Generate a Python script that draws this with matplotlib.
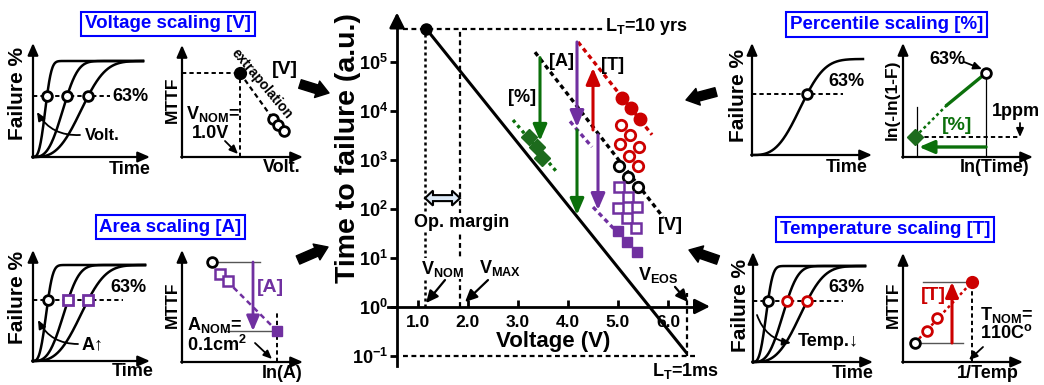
import numpy as np
import matplotlib
matplotlib.use('Agg')
import matplotlib.pyplot as plt
from matplotlib.patches import FancyArrowPatch, Polygon
from matplotlib.transforms import IdentityTransform
from matplotlib.ticker import NullLocator

W, H = 1044, 385
plt.rcParams.update({
    'font.family': ['Liberation Sans', 'DejaVu Sans'],
    'font.weight': 'bold',
    'mathtext.fontset': 'custom',
    'mathtext.rm': 'Liberation Sans',
    'mathtext.bf': 'Liberation Sans:bold',
    'mathtext.it': 'Liberation Sans:bold',
    'mathtext.default': 'bf',
})

GREEN = '#0b700b'; DGREEN = '#1d6b1d'; PURPLE = '#7030a0'; RED = '#cc0000'
BLUE = '#0000ff'; GRAY = '#555555'; LBLUE = '#dce9f7'

# ---------------- main chart data ----------------
x_ticks = [1.0, 2.0, 3.0, 4.0, 5.0, 6.0]
x_tick_labels = ['1.0', '2.0', '3.0', '4.0', '5.0', '6.0']
y_tick_exp = [-1, 0, 1, 2, 3, 4, 5]
y_axis_v = 0.58
ref_v = [1.16, 6.38]; ref_t = [4.7e5, 0.11]
v_nom, v_max, v_eos = 1.14, 1.84, 6.38
lt_10yrs = 4.7e5; lt_1ms = 0.1
op_margin_t = 163
pct_fit_v = [2.9, 3.8]; pct_fit_t = [6.4e3, 5.2e2]
pct_v = [3.22, 3.38, 3.48]; pct_t = [2.9e3, 1.8e3, 1.07e3]
volt_fit_v = [3.34, 5.9]; volt_fit_t = [1.55e5, 67]
volt_v = [5.02, 5.2, 5.4]; volt_t = [740, 440, 275]
temp_fit_v = [4.2, 5.68]; temp_fit_t = [2.5e5, 3.2e3]
temp_v = [5.08, 5.26, 5.44]; temp_t = [1.8e4, 1.1e4, 6.7e3]
temp_raw_v = [5.06, 5.24, 5.04, 5.42, 5.22, 5.4]
temp_raw_t = [5.0e3, 3.2e3, 2.1e3, 1.8e3, 1.2e3, 740]
area_raw_v = [5.02, 5.2, 5.0, 5.38, 5.18, 5.36]
area_raw_t = [275, 170, 102, 107, 64, 40]
area_v = [5.0, 5.18, 5.38]; area_t = [35, 21, 13]
area_fit1_v = [4.04, 4.48]; area_fit1_t = [6.0e3, 1.8e3]
area_fit2_v = [4.5, 5.08]; area_fit2_t = [107, 26]
# shift arrows: (V, start, end, colour)
shift_arrows = [(3.44, 1.2e5, 2.4e3, GREEN), (4.18, 2.5e5, 4.6e3, PURPLE),
                (4.18, 4.0e3, 74, GREEN), (4.6, 3.2e3, 93, PURPLE),
                (4.5, 4.0e3, 7.4e4, RED)]

fig = plt.figure(figsize=(W / 100, H / 100), dpi=100)

# overlay in figure pixels (y from top)
ov = fig.add_axes([0, 0, 1, 1])
ov.set_xlim(0, W); ov.set_ylim(H, 0); ov.axis('off')

ax = fig.add_axes([368 / W, 5 / H, 350 / W, 377.3 / H])
ax.patch.set_visible(False)
ax.set_xlim(0, 7)
ax.set_yscale('log')
ax.set_ylim(10 ** -1.5, 10 ** 6.2)
for s in ['top', 'right']:
    ax.spines[s].set_visible(False)
ax.spines['left'].set_position(('data', y_axis_v))
ax.spines['bottom'].set_position(('data', 1.0))
ax.spines['left'].set_bounds(10 ** -1.21, 10 ** 5.8)
ax.spines['bottom'].set_bounds(0.4, 6.7)
ax.spines['left'].set_linewidth(2); ax.spines['bottom'].set_linewidth(2)
ax.set_xticks(x_ticks)
ax.set_xticklabels(x_tick_labels, fontsize=12.5)
ax.set_yticks([10.0 ** e for e in y_tick_exp])
ax.set_yticklabels(['$10^{%d}$' % e for e in y_tick_exp], fontsize=13)
ax.yaxis.set_minor_locator(NullLocator())
ax.tick_params(axis='x', direction='in', length=5, width=2, pad=6)
ax.tick_params(axis='y', direction='out', length=5, width=2, pad=1.5)
axap = dict(arrowstyle='-|>,head_length=0.6,head_width=0.3', color='k', lw=2,
            mutation_scale=15, shrinkA=0, shrinkB=0)
ax.annotate('', xy=(y_axis_v, 10 ** 6.0), xytext=(y_axis_v, 10 ** 5.7), arrowprops=axap, annotation_clip=False)
ax.annotate('', xy=(6.84, 1.0), xytext=(6.6, 1.0), arrowprops=axap, annotation_clip=False)

dash = (0, (2.2, 1.6))
ax.plot([0.7, 4.7], [lt_10yrs, lt_10yrs], color='k', lw=1.6, ls=dash)
ax.plot([0.7, 6.58], [lt_1ms, lt_1ms], color='k', lw=1.6, ls=dash, clip_on=False)
ax.plot([v_nom, v_nom], [1.0, lt_10yrs], color='k', lw=1.8, ls=(0, (1.2, 1.2)))
ax.plot([v_max, v_max], [1.0, lt_10yrs], color='k', lw=1.6, ls=dash)
ax.plot([v_eos, v_eos], [lt_1ms, 1.9], color='k', lw=1.6, ls=dash)
ax.plot(ref_v, ref_t, color='k', lw=2.2, solid_capstyle='butt')
ax.plot(ref_v[:1], ref_t[:1], 'o', color='k', ms=8)

fitdash = (0, (1.4, 1.1))
ax.plot(pct_fit_v, pct_fit_t, color=GREEN, lw=2.4, ls=(0, (1, 1.1)))
ax.plot(volt_fit_v, volt_fit_t, color='k', lw=2.4, ls=fitdash)
ax.plot(temp_fit_v, temp_fit_t, color=RED, lw=2.4, ls=fitdash)
ax.plot(area_fit1_v, area_fit1_t, color=PURPLE, lw=2.4, ls=fitdash)
ax.plot(area_fit2_v, area_fit2_t, color=PURPLE, lw=2.4, ls=fitdash)

ax.plot(pct_v, pct_t, 'D', color=DGREEN, ms=8.5, mec=DGREEN)
ax.plot(temp_raw_v, temp_raw_t, 'o', ms=7.5, mfc='white', mec=RED, mew=2)
ax.plot(volt_v, volt_t, 'o', ms=7.5, mfc='white', mec='k', mew=2)
ax.plot(temp_v, temp_t, 'o', ms=9, color=RED)
ax.plot(area_raw_v, area_raw_t, 's', ms=6.5, mfc='white', mec=PURPLE, mew=1.8)
ax.plot(area_v, area_t, 's', ms=7, color=PURPLE)

for xv, y0, y1, c in shift_arrows:
    ax.annotate('', xy=(xv, y1), xytext=(xv, y0),
                arrowprops=dict(arrowstyle='-|>,head_length=0.7,head_width=0.3', color=c,
                                lw=2.2, mutation_scale=14, shrinkA=0, shrinkB=0))

ax.text(3.08, 10 ** 4.26, '[%]', ha='center', va='center', fontsize=13)
ax.text(3.88, 10 ** 4.99, '[A]', ha='center', va='center', fontsize=13)
ax.text(4.9, 10 ** 4.92, '[T]', ha='center', va='center', fontsize=13)
ax.text(6.04, 10 ** 1.66, '[V]', ha='center', va='center', fontsize=13)
ax.text(4.74, 10 ** 5.72, 'L$_T$=10 yrs', ha='left', va='center', fontsize=13)
ax.text(5.68, 10 ** -1.32, 'L$_T$=1ms', ha='left', va='center', fontsize=13, clip_on=False)
ax.text(1.88, 10 ** 1.72, 'Op. margin', ha='center', va='center', fontsize=13,
        bbox=dict(fc='white', ec='none', pad=0.5))
ax.text(1.48, 10 ** 0.77, r'V$_{\mathrm{NOM}}$', ha='center', va='center', fontsize=13,
        bbox=dict(fc='white', ec='none', pad=0.5))
ax.text(2.64, 10 ** 0.79, r'V$_{\mathrm{MAX}}$', ha='center', va='center', fontsize=13)
ax.text(5.8, 10 ** 0.64, r'V$_{\mathrm{EOS}}$', ha='center', va='center', fontsize=13)
lap = dict(arrowstyle='-|>,head_length=0.6,head_width=0.28', color='k', lw=1.6,
           mutation_scale=12, shrinkA=0, shrinkB=0)
ax.annotate('', xy=(1.16, 10 ** 0.07), xytext=(1.54, 10 ** 0.54), arrowprops=lap)
ax.annotate('', xy=(1.94, 10 ** 0.09), xytext=(2.4, 10 ** 0.54), arrowprops=lap)
ax.annotate('', xy=(6.4, 10 ** 0.09), xytext=(6.14, 10 ** 0.4), arrowprops=lap)

# op. margin hollow double arrow
p0 = ax.transData.transform((v_nom, op_margin_t))
p1 = ax.transData.transform((v_max, op_margin_t))
x0, x1, yy = p0[0], p1[0], p0[1]
hl, hw, sw = 8, 7.5, 3
verts = [(x0, yy), (x0 + hl, yy + hw), (x0 + hl, yy + sw), (x1 - hl, yy + sw), (x1 - hl, yy + hw),
         (x1, yy), (x1 - hl, yy - hw), (x1 - hl, yy - sw), (x0 + hl, yy - sw), (x0 + hl, yy - hw)]
fig.add_artist(Polygon(verts, closed=True, transform=IdentityTransform(), fc=LBLUE, ec='k', lw=1.5, zorder=5))

ov.text(348, 148, 'Time to failure (a.u.)', rotation=90, ha='center', va='center', fontsize=20.5)
ov.text(553, 342, 'Voltage (V)', ha='center', va='center', fontsize=16)

# ---------------- titles & big arrows ----------------
titles = [('Voltage scaling [V]', 168, 24), ('Area scaling [A]', 170.5, 227),
          ('Percentile scaling [%]', 886.5, 24.5), ('Temperature scaling [T]', 885, 229.5)]
for txt, tx, ty in titles:
    ov.text(tx, ty, txt, ha='center', va='center', fontsize=13.5, color=BLUE,
            bbox=dict(boxstyle='square,pad=0.2', fc='white', ec=BLUE, lw=1.5))
big_arrows = [((300, 84), (329, 93)), ((298, 260), (328, 247)),
              ((716, 92), (686, 100)), ((718, 260), (689, 250))]
for (ax0, ay0), (ax1, ay1) in big_arrows:
    ov.add_patch(FancyArrowPatch((ax0, ay0), (ax1, ay1),
                 arrowstyle='simple,head_length=0.45,head_width=0.62,tail_width=0.32',
                 mutation_scale=20, color='k', shrinkA=0, shrinkB=0))

# ---------------- schematic panels ----------------
beta = 3.0
S = 96
volt_etas = [14, 34, 55]
area_etas = [15, 35, 55]
temp_etas = [15, 34, 54]
pct_eta = [55]
LW = 1.8


def base_panel(ox, oy, w, h):
    a = fig.add_axes([ox / W, (H - oy) / H, w / W, h / H])
    a.set_xlim(0, w); a.set_ylim(0, h); a.axis('off')
    ap = dict(arrowstyle='-|>,head_length=0.55,head_width=0.24', color='k', lw=1.6,
              mutation_scale=13, shrinkA=0, shrinkB=0)
    a.annotate('', xy=(w, 0), xytext=(-0.8, 0), arrowprops=ap, annotation_clip=False)
    a.annotate('', xy=(0, h), xytext=(0, -0.8), arrowprops=ap, annotation_clip=False)
    return a


def weibull_panel(a, etas, t_end, styles):
    t = np.linspace(0, t_end, 300)
    y63 = S * (1 - np.exp(-1))
    for eta in etas:
        a.plot(t, S * (1 - np.exp(-(t / eta) ** beta)), color='k', lw=LW, clip_on=False)
    for eta, (m, c, ms) in zip(etas, styles):
        a.plot([eta], [y63], m, ms=ms, mfc='white', mec=c, mew=2, clip_on=False, zorder=5)
    return y63


cap = dict(arrowstyle='-|>,head_length=0.5,head_width=0.22', color='k', lw=1.3,
           mutation_scale=10, shrinkA=0, shrinkB=0)

# Panel 1: failure vs time, voltage
pa = base_panel(33, 157, 117, 114)
y63 = weibull_panel(pa, volt_etas, 110, [('o', 'k', 7)] * 3)
pa.plot([0, 77], [y63, y63], color='k', lw=1.4, ls=dash, zorder=1)
pa.text(79, y63, '63%', ha='left', va='center', fontsize=13)
pa.text(-15, 64, 'Failure %', rotation=90, ha='center', va='center', fontsize=15)
pa.text(97, -13, 'Time', ha='center', va='center', fontsize=13)
pa.text(52, 22, 'Volt.', ha='left', va='center', fontsize=12)
pa.annotate('', xy=(4, 45), xytext=(47, 22), arrowprops=dict(cap, connectionstyle='arc3,rad=-0.3'))

# Panel 2: MTTF vs volt
v_nom_pt = (58, 84)
v_stress_x = [91, 96, 102]; v_stress_y = [38, 32, 26]
pb = base_panel(182, 157, 121, 112)
pb.plot([0, v_nom_pt[0]], [v_nom_pt[1]] * 2, color='k', lw=1.4, ls=dash)
pb.plot([v_nom_pt[0]] * 2, [0, v_nom_pt[1]], color='k', lw=1.4, ls=dash)
pb.plot([v_nom_pt[0], v_stress_x[0]], [v_nom_pt[1], v_stress_y[0]], color='k', lw=1.6, ls=dash)
pb.plot([v_nom_pt[0]], [v_nom_pt[1]], 'o', color='k', ms=8.5, clip_on=False)
pb.plot(v_stress_x, v_stress_y, 'o', ms=7, mfc='white', mec='k', mew=2, clip_on=False)
pb.text(79.5, 73, 'extrapolation', rotation=-50, ha='center', va='center', fontsize=10)
pb.text(4, 43, r'V$_{\mathrm{NOM}}$=', ha='left', va='center', fontsize=13)
pb.text(28.5, 24, '1.0V', ha='center', va='center', fontsize=13)
pb.annotate('', xy=(56, 3), xytext=(43, 16), arrowprops=cap)
pb.text(103, 87, '[V]', ha='center', va='center', fontsize=14)
pb.text(-10, 57, 'MTTF', rotation=90, ha='center', va='center', fontsize=12.5)
pb.text(100, -11, 'Volt.', ha='center', va='center', fontsize=13)

# Panel 3: failure vs time, area
pc = base_panel(33, 361, 117, 111)
y63 = weibull_panel(pc, area_etas, 112, [('o', 'k', 7), ('s', PURPLE, 6.5), ('s', PURPLE, 6.5)])
pc.plot([0, 90], [y63, y63], color='k', lw=1.4, ls=dash, zorder=1)
pc.text(95, 73, '63%', ha='center', va='center', fontsize=13)
pc.text(-15, 64, 'Failure %', rotation=90, ha='center', va='center', fontsize=15)
pc.text(100, -11, 'Time', ha='center', va='center', fontsize=13)
pc.text(49, 16, 'A↑', ha='left', va='center', fontsize=13)
pc.annotate('', xy=(5, 41), xytext=(45, 17), arrowprops=dict(cap, connectionstyle='arc3,rad=-0.3'))

# Panel 4: MTTF vs ln(A)
a_small = (30, 100)
a_mid_x = [38, 46]; a_mid_y = [88, 81]
a_nom = (95, 31)
pd_ = base_panel(182, 362, 121, 112)
pd_.plot([a_small[0], 78], [a_small[1]] * 2, color=GRAY, lw=1)
pd_.plot([43, a_nom[0]], [a_nom[1]] * 2, color=GRAY, lw=1)
pd_.plot([a_nom[0]] * 2, [0, 49], color='k', lw=1.4, ls=dash)
pd_.plot([a_mid_x[0], a_nom[0]], [a_mid_y[0], a_nom[1]], color=PURPLE, lw=1.8, ls=dash)
pd_.plot([a_small[0]], [a_small[1]], 'o', ms=7, mfc='white', mec='k', mew=2, clip_on=False)
pd_.plot(a_mid_x, a_mid_y, 's', ms=6.5, mfc='white', mec=PURPLE, mew=1.8, clip_on=False)
pd_.plot([a_nom[0]], [a_nom[1]], 's', ms=7.5, color=PURPLE, clip_on=False)
pd_.annotate('', xy=(71, a_nom[1]), xytext=(71, a_small[1]),
             arrowprops=dict(arrowstyle='-|>,head_length=0.7,head_width=0.3', color=PURPLE,
                             lw=2, mutation_scale=13, shrinkA=0, shrinkB=0))
pd_.text(88, 74, '[A]', ha='center', va='center', fontsize=14, color=PURPLE)
pd_.text(5, 37, r'A$_{\mathrm{NOM}}$=', ha='left', va='center', fontsize=13)
pd_.text(5, 17, '0.1cm$^2$', ha='left', va='center', fontsize=13)
pd_.annotate('', xy=(90, 3), xytext=(73, 19), arrowprops=cap)
pd_.text(-10, 57, 'MTTF', rotation=90, ha='center', va='center', fontsize=12.5)
pd_.text(100, -11, 'ln(A)', ha='center', va='center', fontsize=13)

# Panel 5: percentile failure vs time
pe = base_panel(752, 155, 120, 112)
y63 = weibull_panel(pe, pct_eta, 111, [('o', 'k', 7)])
pe.plot([0, 91], [y63, y63], color='k', lw=1.4, ls=dash, zorder=1)
pe.text(94, 73, '63%', ha='center', va='center', fontsize=13)
pe.text(-14, 59, 'Failure %', rotation=90, ha='center', va='center', fontsize=15)
pe.text(95, -12, 'Time', ha='center', va='center', fontsize=13)

# Panel 6: Weibull plot
w63 = (83, 84)
w_break = (44, 52)
w_ppm = (12, 20)
pf = base_panel(903, 157, 130, 114)
pf.plot([w63[0]] * 2, [0, w63[1]], color='k', lw=0.9)
pf.plot([14, 14], [0, 50], color='k', lw=0.9)
pf.plot([14, 117], [w_ppm[1]] * 2, color='k', lw=1.4, ls=dash)
pf.plot([w63[0], w_break[0]], [w63[1], w_break[1]], color=GREEN, lw=2.4)
pf.plot([w_break[0], w_ppm[0]], [w_break[1], w_ppm[1]], color=GREEN, lw=1.8, ls=(0, (1.2, 1.2)))
pf.plot([w63[0]], [w63[1]], 'o', ms=7, mfc='white', mec='k', mew=2, clip_on=False, zorder=5)
pf.plot([w_ppm[0]], [w_ppm[1]], 'D', ms=8, color=DGREEN, clip_on=False, zorder=5)
pf.annotate('', xy=(117, w_ppm[1]), xytext=(117, 34), arrowprops=cap)
pf.text(113, 45, '1ppm', ha='center', va='center', fontsize=13)
pf.annotate('', xy=(16, 10), xytext=(w63[0], 10),
            arrowprops=dict(arrowstyle='-|>,head_length=0.7,head_width=0.3', color=GREEN,
                            lw=2.4, mutation_scale=13, shrinkA=0, shrinkB=0))
pf.text(54, 32, '[%]', ha='center', va='center', fontsize=14, color=GREEN)
pf.text(44, 97, '63%', ha='center', va='center', fontsize=13)
pf.annotate('', xy=(79, 88), xytext=(61, 95), arrowprops=cap)
pf.text(-11, 57, 'ln(-ln(1-F)', rotation=90, ha='center', va='center', fontsize=12.5)
pf.text(92, -11, 'ln(Time)', ha='center', va='center', fontsize=13)

# Panel 7: failure vs time, temperature
pg = base_panel(753, 362, 120, 110)
y63 = weibull_panel(pg, temp_etas, 112, [('o', 'k', 7), ('o', RED, 7), ('o', RED, 7)])
pg.plot([0, 90], [y63, y63], color='k', lw=1.4, ls=dash, zorder=1)
pg.text(93, 74, '63%', ha='center', va='center', fontsize=13)
pg.text(-13, 57, 'Failure %', rotation=90, ha='center', va='center', fontsize=15)
pg.text(100, -11, 'Time', ha='center', va='center', fontsize=13)
pg.text(45, 20, 'Temp.↓', ha='left', va='center', fontsize=13)
pg.annotate('', xy=(38, 19), xytext=(4, 47), arrowprops=dict(cap, connectionstyle='arc3,rad=0.3'))

# Panel 8: MTTF vs 1/Temp
t_low = (12, 19)
t_mid_x = [24, 34]; t_mid_y = [31, 44]
t_nom = (69, 80)
ph = base_panel(903, 362, 120, 109)
ph.plot([20, t_nom[0]], [t_nom[1]] * 2, color=GRAY, lw=1)
ph.plot([t_low[0], 60], [t_low[1]] * 2, color=GRAY, lw=1)
ph.plot([t_nom[0]] * 2, [0, t_nom[1]], color='k', lw=1.4, ls=dash)
ph.plot([t_low[0], t_nom[0]], [t_low[1], t_nom[1]], color=RED, lw=1.8, ls=(0, (1.2, 1.2)))
ph.plot([t_low[0]], [t_low[1]], 'o', ms=7, mfc='white', mec='k', mew=2, clip_on=False, zorder=5)
ph.plot(t_mid_x, t_mid_y, 'o', ms=7, mfc='white', mec=RED, mew=2, clip_on=False, zorder=5)
ph.plot([t_nom[0]], [t_nom[1]], 'o', ms=8.5, color=RED, clip_on=False, zorder=5)
ph.annotate('', xy=(49, t_nom[1]), xytext=(49, t_low[1]),
            arrowprops=dict(arrowstyle='-|>,head_length=0.7,head_width=0.3', color=RED,
                            lw=2.2, mutation_scale=13, shrinkA=0, shrinkB=0))
ph.text(30, 66, '[T]', ha='center', va='center', fontsize=14, color=RED)
ph.text(77, 47, r'T$_{\mathrm{NOM}}$=', ha='left', va='center', fontsize=13)
ph.text(77, 29, '110C$^o$', ha='left', va='center', fontsize=13)
ph.annotate('', xy=(66, 2), xytext=(80, 15), arrowprops=cap)
ph.text(-10, 57, 'MTTF', rotation=90, ha='center', va='center', fontsize=12.5)
ph.text(85, -11, '1/Temp', ha='center', va='center', fontsize=13)

fig.savefig('out.png', dpi=100)
